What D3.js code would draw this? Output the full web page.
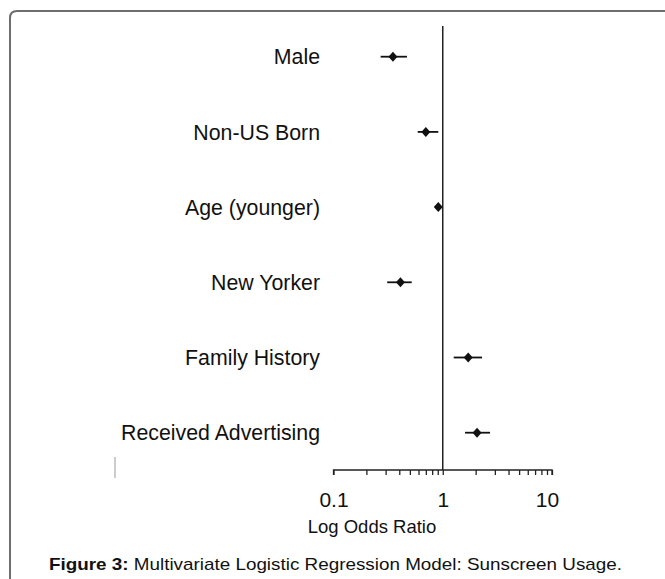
<!DOCTYPE html>
<html>
<head>
<meta charset="utf-8">
<script src="https://cdn.jsdelivr.net/npm/d3@7"></script>
<style>
  html, body { margin: 0; padding: 0; background: #fff; }
  svg { display: block; }
  text { font-family: "Liberation Sans", Arial, sans-serif; fill: #111; }
</style>
</head>
<body>
<svg id="chart" width="665" height="579"></svg>
<script>
// ---- data ----
const categories = ["Male", "Non-US Born", "Age (younger)", "New Yorker", "Family History", "Received Advertising"];
const oddsRatio  = [0.35, 0.70, 0.91, 0.41, 1.71, 2.06];
const ciLower    = [0.27, 0.59, 0.88, 0.31, 1.26, 1.60];
const ciUpper    = [0.47, 0.91, 0.95, 0.52, 2.29, 2.71];
const majorTicks = [0.1, 1, 10];
const minorMultipliers = [2, 3, 4, 5, 6, 7, 8, 9];
const xTitle = "Log Odds Ratio";
const captionBold = "Figure 3:";
const captionText = " Multivariate Logistic Regression Model: Sunscreen Usage.";

const rows = categories.map((c, i) => ({ cat: c, or: oddsRatio[i], lo: ciLower[i], hi: ciUpper[i] }));

const svg = d3.select("#chart");

// frame
svg.append("path")
  .attr("d", "M665,11 H17 Q10,11 10,18 V579")
  .attr("fill", "none").attr("stroke", "#6e6e6e").attr("stroke-width", 2);

const axisY = 470;
const x = d3.scaleLog().domain([0.1, 10]).range([333.5, 552]);
const y = d3.scalePoint().domain(categories).range([56.7, 432.7]);

// tick values: majors plus minors
const tickVals = [];
majorTicks.forEach((m, i) => {
  tickVals.push(m);
  if (i < majorTicks.length - 1) minorMultipliers.forEach(k => tickVals.push(m * k));
});

const axis = d3.axisBottom(x)
  .tickValues(tickVals)
  .tickSize(5)
  .tickPadding(17)
  .tickFormat(d => majorTicks.includes(d) ? String(d) : "");

const gAxis = svg.append("g").attr("transform", `translate(0,${axisY})`).call(axis);
gAxis.select(".domain").attr("stroke", "#222").attr("stroke-width", 1.3).attr("d", `M${x(0.1)},5V0H${x(10)}V5`);
gAxis.selectAll(".tick line").attr("stroke", "#222").attr("stroke-width", 1.3);
gAxis.selectAll(".tick text").attr("font-size", 21).attr("font-family", "Liberation Sans, Arial, sans-serif").attr("fill", "#111");
gAxis.selectAll(".tick").filter(d => d === 10).select("text").attr("dx", -5);

// reference line at OR = 1
svg.append("line")
  .attr("x1", x(1)).attr("x2", x(1))
  .attr("y1", 26).attr("y2", axisY)
  .attr("stroke", "#222").attr("stroke-width", 1.5);

// axis title
svg.append("text")
  .attr("x", 372).attr("y", 533)
  .attr("text-anchor", "middle")
  .attr("font-size", 18.5)
  .text(xTitle);

// category labels
svg.append("g").selectAll("text")
  .data(rows).join("text")
  .attr("x", 320)
  .attr("y", d => y(d.cat))
  .attr("dy", "0.36em")
  .attr("text-anchor", "end")
  .attr("font-size", 21.3)
  .text(d => d.cat);

// CI lines
svg.append("g").selectAll("line")
  .data(rows).join("line")
  .attr("x1", d => x(d.lo)).attr("x2", d => x(d.hi))
  .attr("y1", d => y(d.cat)).attr("y2", d => y(d.cat))
  .attr("stroke", "#111").attr("stroke-width", 1.8);

// diamonds
svg.append("g").selectAll("path")
  .data(rows).join("path")
  .attr("transform", d => `translate(${x(d.or)},${y(d.cat)})`)
  .attr("d", "M0,-5L4.5,0L0,5L-4.5,0Z")
  .attr("fill", "#111");

// stray mark at left
svg.append("line")
  .attr("x1", 115).attr("x2", 115)
  .attr("y1", 457).attr("y2", 478)
  .attr("stroke", "#999").attr("stroke-width", 1);

// caption
const cap = svg.append("text")
  .attr("x", 49).attr("y", 570)
  .attr("font-size", 17)
  .attr("textLength", 573)
  .attr("lengthAdjust", "spacingAndGlyphs");
cap.append("tspan").attr("font-weight", "bold").text(captionBold);
cap.append("tspan").text(captionText);
</script>
</body>
</html>
